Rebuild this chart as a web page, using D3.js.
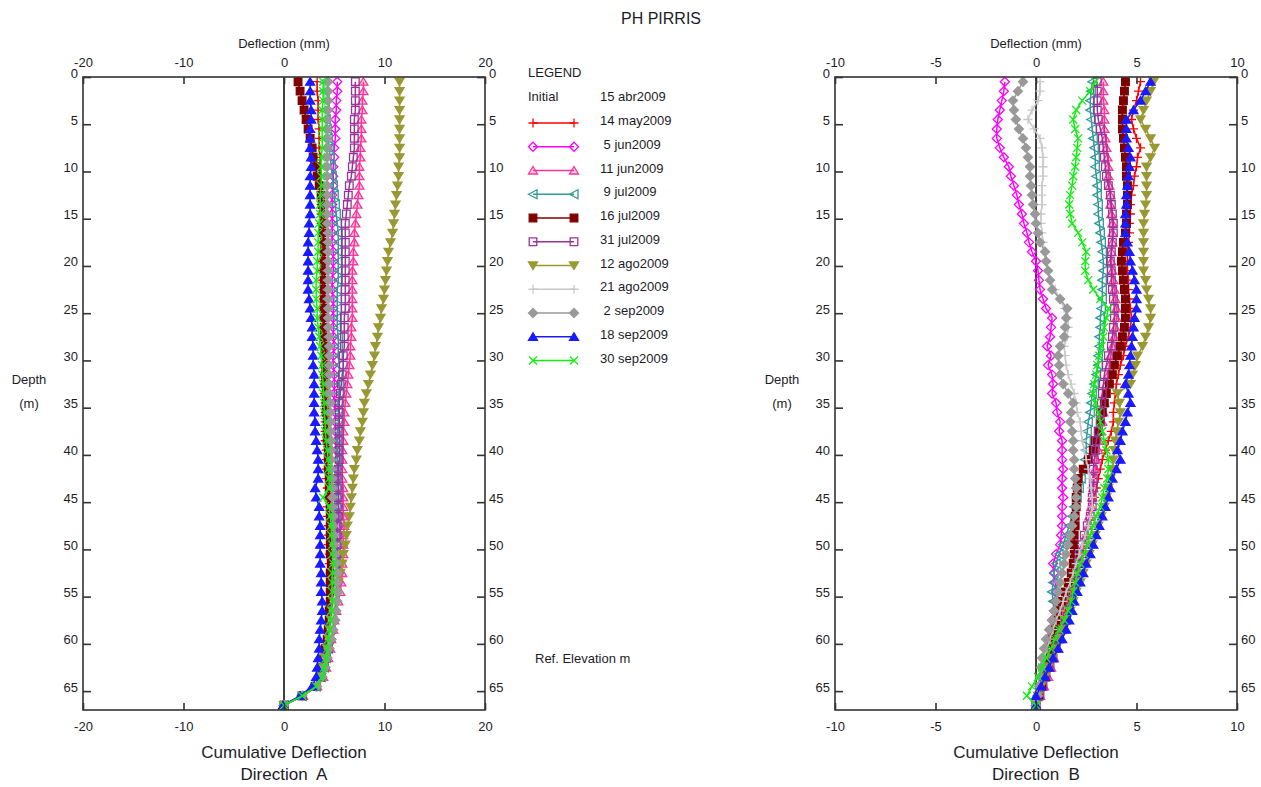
<!DOCTYPE html>
<html><head><meta charset="utf-8">
<script src="https://cdn.jsdelivr.net/npm/d3@7"></script>
<style>
html,body{margin:0;padding:0;background:#fff;}
svg{display:block;font-family:"Liberation Sans",Arial,sans-serif;}
</style></head><body>
<svg id="chart" width="1261" height="787"></svg>
<script>
// ---------------- DATA ----------------
const depths = [0.5,1.5,2.5,3.5,4.5,5.5,6.5,7.5,8.5,9.5,
 10.5,11.5,12.5,13.5,14.5,15.5,16.5,17.5,18.5,19.5,
 20.5,21.5,22.5,23.5,24.5,25.5,26.5,27.5,28.5,29.5,
 30.5,31.5,32.5,33.5,34.5,35.5,36.5,37.5,38.5,39.5,
 40.5,41.5,42.5,43.5,44.5,45.5,46.5,47.5,48.5,49.5,
 50.5,51.5,52.5,53.5,54.5,55.5,56.5,57.5,58.5,59.5,
 60.5,61.5,62.5,63.5,64.5,65.5,66.5];

const seriesLabels = ["14 may2009"," 5 jun2009","11 jun2009"," 9 jul2009","16 jul2009","31 jul2009",
  "12 ago2009","21 ago2009"," 2 sep2009","18 sep2009","30 sep2009"];
const initialLabel = "15 abr2009";
const depthTicks = [0,5,10,15,20,25,30,35,40,45,50,55,60,65];
const ticksA = [-20,-10,0,10,20];
const ticksB = [-10,-5,0,5,10];

// Direction A (mm)
const a_14may = [3.3,3.3,3.4,3.4,3.4,3.5,3.5,3.5,3.6,3.6,
 3.6,3.6,3.7,3.7,3.7,3.7,3.8,3.8,3.8,3.8,
 3.8,3.8,3.9,3.9,3.9,3.9,3.9,3.9,3.9,4.0,
 4.0,4.0,4.0,4.0,4.1,4.1,4.1,4.1,4.1,4.2,
 4.2,4.2,4.2,4.3,4.3,4.3,4.3,4.4,4.4,4.4,
 4.5,4.5,4.6,4.6,4.6,4.6,4.5,4.5,4.4,4.3,
 4.2,4.1,3.9,3.7,3.2,1.8,0];
const a_05jun = [5.3,5.3,5.2,5.2,5.1,5.1,5.1,5.0,5.0,4.9,
 4.9,4.9,4.8,4.8,4.8,4.8,4.8,4.8,4.9,4.9,
 4.9,4.8,4.8,4.9,4.9,4.9,4.9,4.9,5.0,4.9,
 4.9,5.0,5.0,5.0,5.0,5.1,5.1,5.1,5.2,5.2,
 5.3,5.3,5.3,5.4,5.4,5.4,5.5,5.5,5.5,5.6,
 5.5,5.5,5.5,5.4,5.3,5.2,5.1,5.0,4.8,4.7,
 4.5,4.3,4.1,3.8,3.2,1.8,0];
const a_11jun = [7.9,7.9,7.8,7.8,7.7,7.7,7.7,7.6,7.6,7.5,
 7.5,7.5,7.4,7.3,7.2,7.1,7.0,7.0,6.9,6.9,
 6.8,6.8,6.8,6.8,6.8,6.8,6.7,6.7,6.6,6.6,
 6.5,6.4,6.3,6.2,6.1,6.0,6.0,5.9,5.9,5.8,
 5.8,5.8,5.8,5.9,5.9,5.9,5.9,6.0,5.9,5.9,
 5.9,5.8,5.8,5.7,5.6,5.4,5.2,5.0,4.9,4.7,
 4.6,4.4,4.2,3.9,3.3,1.9,0];
const a_09jul = [4.0,4.0,4.1,4.1,4.2,4.3,4.4,4.5,4.6,4.7,
 4.8,4.9,5.0,5.1,5.2,5.3,5.4,5.4,5.4,5.4,
 5.4,5.4,5.3,5.3,5.3,5.3,5.3,5.4,5.4,5.4,
 5.5,5.5,5.5,5.5,5.4,5.4,5.4,5.3,5.3,5.3,
 5.3,5.2,5.2,5.2,5.2,5.2,5.2,5.2,5.2,5.2,
 5.2,5.1,5.1,5.0,5.0,4.9,4.8,4.7,4.6,4.5,
 4.4,4.2,4.0,3.7,3.2,1.8,0];
const a_16jul = [1.4,1.6,1.8,2.0,2.2,2.4,2.6,2.8,2.9,3.1,
 3.3,3.5,3.7,3.8,3.9,3.9,3.9,4.0,4.0,4.0,
 4.0,4.0,4.0,4.0,4.0,4.0,4.0,4.0,4.1,4.1,
 4.1,4.1,4.1,4.2,4.2,4.2,4.3,4.3,4.3,4.4,
 4.4,4.4,4.5,4.5,4.5,4.6,4.6,4.6,4.6,4.6,
 4.6,4.7,4.6,4.6,4.6,4.6,4.5,4.5,4.4,4.3,
 4.1,4.0,3.8,3.6,3.1,1.8,0];
const a_31jul = [7.1,7.1,7.1,7.1,7.0,7.0,7.0,7.0,6.9,6.8,
 6.7,6.5,6.4,6.3,6.2,6.1,6.1,6.1,6.1,6.1,
 6.1,6.1,6.1,6.1,6.1,6.0,6.0,6.0,6.0,5.9,
 5.9,5.8,5.7,5.6,5.5,5.5,5.5,5.5,5.5,5.5,
 5.5,5.4,5.4,5.4,5.4,5.4,5.4,5.3,5.3,5.3,
 5.3,5.2,5.2,5.1,5.1,5.0,4.9,4.8,4.7,4.5,
 4.4,4.2,4.0,3.7,3.2,1.8,0];
const a_12ago = [11.5,11.5,11.5,11.5,11.5,11.5,11.5,11.5,11.5,11.4,
 11.4,11.3,11.2,11.1,11.0,10.9,10.8,10.6,10.4,10.3,
 10.2,10.1,10.0,9.9,9.7,9.6,9.4,9.3,9.1,9.0,
 8.8,8.6,8.4,8.2,8.0,7.9,7.8,7.6,7.5,7.3,
 7.2,7.0,6.9,6.8,6.7,6.6,6.5,6.3,6.2,6.1,
 5.9,5.8,5.6,5.4,5.2,5.0,4.9,4.8,4.6,4.5,
 4.3,4.1,3.9,3.7,3.2,1.9,0];
const a_21ago = [4.1,4.1,4.1,4.1,4.1,4.1,4.2,4.2,4.2,4.2,
 4.2,4.2,4.2,4.2,4.2,4.3,4.3,4.3,4.3,4.3,
 4.3,4.3,4.3,4.3,4.4,4.4,4.4,4.4,4.5,4.5,
 4.5,4.5,4.5,4.6,4.6,4.6,4.7,4.7,4.7,4.7,
 4.8,4.8,4.8,4.8,4.9,4.9,4.9,4.9,5.0,5.0,
 5.0,5.0,5.1,5.1,5.1,5.0,4.9,4.8,4.7,4.5,
 4.4,4.2,4.0,3.7,3.2,1.8,0];
const a_02sep = [4.4,4.4,4.4,4.4,4.3,4.3,4.3,4.3,4.3,4.3,
 4.3,4.3,4.3,4.3,4.3,4.3,4.4,4.4,4.4,4.4,
 4.4,4.4,4.4,4.4,4.4,4.4,4.4,4.5,4.5,4.5,
 4.5,4.5,4.5,4.5,4.6,4.6,4.6,4.6,4.7,4.7,
 4.7,4.7,4.8,4.8,4.8,4.8,4.9,4.9,5.0,5.0,
 5.1,5.2,5.3,5.3,5.4,5.3,5.2,5.1,4.9,4.7,
 4.5,4.3,4.1,3.8,3.3,1.8,0];
const a_18sep = [2.6,2.6,2.6,2.7,2.7,2.6,2.6,2.6,2.7,2.7,
 2.6,2.6,2.6,2.6,2.6,2.5,2.5,2.4,2.4,2.4,
 2.4,2.4,2.4,2.5,2.6,2.7,2.8,2.8,2.9,2.9,
 2.9,3.0,3.0,3.0,3.0,3.0,3.1,3.1,3.2,3.3,
 3.4,3.4,3.4,3.1,3.2,3.5,3.5,3.6,3.6,3.6,
 3.6,3.6,3.7,3.7,3.7,3.8,3.8,3.7,3.6,3.5,
 3.5,3.4,3.3,3.2,2.8,1.6,-0.1];
const a_30sep = [3.9,3.9,3.9,3.8,3.8,3.8,3.8,3.8,3.7,3.7,
 3.7,3.7,3.6,3.6,3.6,3.5,3.4,3.4,3.4,3.3,
 3.3,3.2,3.2,3.2,3.3,3.3,3.4,3.5,3.6,3.7,
 3.8,3.8,3.9,3.9,4.0,4.0,4.1,4.1,4.2,4.3,
 4.4,4.4,4.5,4.5,3.9,4.5,4.6,4.7,4.7,4.8,
 4.8,4.9,4.8,4.8,4.8,4.8,4.7,4.6,4.5,4.4,
 4.3,4.2,4.0,3.8,3.2,1.8,0];

// Direction B (mm)
const b_14may = [5.2,5.1,5.0,4.85,4.75,4.85,5.0,5.2,5.05,5.0,
 4.9,4.85,4.75,4.7,4.7,4.65,4.65,4.6,4.55,4.55,
 4.55,4.6,4.6,4.65,4.7,4.75,4.7,4.6,4.45,4.35,
 4.2,4.1,4.0,3.95,3.9,3.85,3.85,3.75,3.6,3.45,
 3.3,3.2,3.1,3.0,2.9,2.8,2.7,2.6,2.5,2.4,
 2.3,2.15,2.0,1.85,1.7,1.6,1.45,1.3,1.1,0.95,
 0.8,0.7,0.55,0.4,0.3,0.15,0];
const b_05jun = [-1.55,-1.6,-1.7,-1.8,-1.9,-1.95,-1.95,-1.8,-1.6,-1.35,
 -1.25,-1.1,-0.95,-0.85,-0.7,-0.6,-0.45,-0.35,-0.2,0.0,
 0.1,0.15,0.2,0.35,0.5,0.8,0.75,0.7,0.55,0.75,
 0.6,0.8,0.85,0.8,1.0,1.05,1.2,1.15,1.3,1.3,
 1.3,1.35,1.3,1.3,1.35,1.3,1.3,1.3,1.25,1.2,
 1.0,0.85,0.9,0.95,1.0,0.95,0.9,0.8,0.7,0.6,
 0.5,0.45,0.35,0.3,0.2,0.1,0];
const b_11jun = [3.35,3.35,3.35,3.4,3.4,3.4,3.45,3.5,3.55,3.6,
 3.6,3.65,3.7,3.7,3.75,3.8,3.8,3.8,3.75,3.75,
 3.8,3.85,3.9,3.95,4.0,4.0,3.95,3.9,3.8,3.7,
 3.65,3.6,3.5,3.45,3.4,3.35,3.3,3.2,3.15,3.1,
 3.0,2.95,2.9,2.85,2.8,2.75,2.65,2.6,2.5,2.4,
 2.3,2.2,2.1,2.0,1.9,1.8,1.65,1.5,1.35,1.2,
 1.1,0.9,0.75,0.6,0.4,0.2,0];
const b_09jul = [2.8,2.75,2.7,2.7,2.75,2.8,2.85,2.9,2.95,2.95,
 3.0,3.05,3.05,3.1,3.1,3.15,3.2,3.25,3.3,3.35,
 3.35,3.3,3.3,3.3,3.25,3.2,3.2,3.15,3.15,3.1,
 3.1,3.0,2.9,2.8,2.75,2.7,2.6,2.55,2.5,2.5,
 2.45,2.35,2.25,2.15,2.05,1.9,1.8,1.65,1.5,1.35,
 1.15,1.0,0.9,0.85,0.8,0.85,0.9,0.85,0.8,0.7,
 0.6,0.5,0.4,0.3,0.2,0.1,0];
const b_16jul = [4.45,4.4,4.35,4.3,4.3,4.3,4.35,4.4,4.45,4.5,
 4.5,4.55,4.55,4.55,4.5,4.5,4.45,4.35,4.3,4.25,
 4.3,4.35,4.4,4.45,4.45,4.45,4.4,4.3,4.2,4.05,
 3.9,3.8,3.65,3.5,3.4,3.3,3.2,3.1,2.95,2.85,
 2.6,2.35,2.1,2.05,2.0,2.0,1.95,1.95,1.9,1.9,
 1.9,1.85,1.75,1.6,1.45,1.3,1.1,1.0,0.9,0.85,
 0.8,0.7,0.6,0.45,0.3,0.15,0];
const b_31jul = [3.05,3.05,3.05,3.05,3.1,3.2,3.3,3.35,3.4,3.45,
 3.5,3.6,3.7,3.75,3.8,3.85,3.85,3.8,3.75,3.7,
 3.75,3.75,3.8,3.85,3.9,3.9,3.85,3.8,3.75,3.6,
 3.5,3.4,3.35,3.3,3.25,3.2,3.2,3.1,3.0,2.95,
 2.9,2.85,2.85,2.85,2.8,2.8,2.7,2.55,2.4,2.3,
 2.15,2.1,2.0,1.9,1.8,1.7,1.55,1.45,1.3,1.15,
 1.0,0.85,0.7,0.5,0.35,0.2,0];
const b_12ago = [5.85,5.7,5.5,5.35,5.2,5.45,5.7,5.9,5.7,5.5,
 5.5,5.5,5.5,5.45,5.4,5.35,5.35,5.35,5.35,5.35,
 5.35,5.45,5.5,5.6,5.7,5.7,5.6,5.45,5.3,5.05,
 4.95,4.8,4.7,4.05,4.15,4.2,4.1,4.0,3.95,3.9,
 3.85,3.8,3.7,3.6,3.5,3.4,3.25,3.1,2.95,2.8,
 2.65,2.5,2.35,2.2,2.0,1.85,1.7,1.5,1.35,1.15,
 1.0,0.8,0.6,0.45,0.25,0.1,0];
const b_21ago = [0.2,0.2,0.1,-0.2,-0.4,-0.1,0.2,0.3,0.35,0.35,
 0.35,0.3,0.3,0.3,0.25,0.25,0.3,0.35,0.45,0.5,
 0.6,0.7,0.95,1.2,1.4,1.6,1.6,1.55,1.4,1.45,
 1.5,1.6,1.75,1.9,2.0,2.05,2.2,2.25,2.3,2.4,
 2.5,2.6,2.7,2.75,2.8,2.8,2.7,2.6,2.45,2.3,
 2.15,2.0,1.85,1.7,1.5,1.35,1.2,1.0,0.85,0.7,
 0.55,0.4,0.3,0.2,0.1,0.05,0];
const b_02sep = [-0.65,-0.9,-1.15,-1.1,-1.0,-0.85,-0.65,-0.5,-0.4,-0.3,
 -0.3,-0.25,-0.2,-0.15,-0.05,0.0,0.1,0.2,0.45,0.5,
 0.6,0.7,0.8,1.2,1.55,1.5,1.45,1.4,1.2,1.1,
 1.15,1.2,1.35,1.6,1.85,1.75,1.7,1.8,1.85,1.85,
 1.9,1.9,1.95,2.0,2.0,2.0,1.9,1.8,1.7,1.6,
 1.5,1.4,1.3,1.2,1.1,1.0,0.9,0.8,0.65,0.5,
 0.4,0.3,0.25,0.2,0.15,0.1,0];
const b_18sep = [5.7,5.45,5.2,4.85,4.5,4.5,4.5,4.6,4.7,4.65,
 4.6,4.55,4.5,4.5,4.45,4.45,4.45,4.55,4.65,4.7,
 4.8,4.9,5.0,5.0,5.0,4.9,4.85,4.8,4.75,4.7,
 4.65,4.6,4.45,4.6,4.7,4.55,4.45,4.3,4.2,4.05,
 4.2,4.0,3.8,3.7,3.6,3.45,3.3,3.15,3.0,2.85,
 2.7,2.5,2.35,2.2,2.05,1.9,1.8,1.65,1.5,1.3,
 1.1,0.85,0.65,0.45,0.25,0.0,0];
const b_30sep = [2.95,2.7,2.3,2.0,1.85,1.95,2.1,2.05,2.0,1.95,
 1.85,1.8,1.7,1.65,1.7,1.8,2.1,2.3,2.5,2.45,
 2.45,2.6,2.85,3.2,3.6,3.5,3.4,3.35,3.25,3.15,
 3.05,3.0,2.9,2.85,2.95,3.1,3.2,3.3,3.4,3.5,
 3.6,3.6,3.55,3.4,3.3,3.2,3.0,2.85,2.7,2.55,
 2.4,2.2,2.05,1.95,1.85,1.75,1.6,1.4,1.15,0.95,
 0.75,0.5,0.3,0.1,-0.2,-0.45,0];

const dirA = [a_14may,a_05jun,a_11jun,a_09jul,a_16jul,a_31jul,a_12ago,a_21ago,a_02sep,a_18sep,a_30sep];
const dirB = [b_14may,b_05jun,b_11jun,b_09jul,b_16jul,b_31jul,b_12ago,b_21ago,b_02sep,b_18sep,b_30sep];

// ---------------- STYLES ----------------
const styles = [
  {color:"#ff0000", marker:"plus",    fill:"none"},
  {color:"#ff00ff", marker:"diamond", fill:"none"},
  {color:"#ff3399", marker:"triUp",   fill:"rgba(255,51,153,0.25)"},
  {color:"#339999", marker:"triLeft", fill:"none"},
  {color:"#800000", marker:"square",  fill:"#800000"},
  {color:"#993399", marker:"square",  fill:"none"},
  {color:"#999933", marker:"triDown", fill:"#999933"},
  {color:"#c8c8c8", marker:"plus",    fill:"none"},
  {color:"#999999", marker:"diamond", fill:"#999999"},
  {color:"#1a1aff", marker:"triUp",   fill:"#1a1aff"},
  {color:"#11ee11", marker:"cross",   fill:"none"}
];
const markerPaths = {
  plus:"M-4.5,0H4.5M0,-4.5V4.5",
  diamond:"M0,-4.5L4.5,0L0,4.5L-4.5,0Z",
  triUp:"M0,-4L4.5,3.5L-4.5,3.5Z",
  triLeft:"M-4.5,0L4,-4.5L4,4.5Z",
  square:"M-3.8,-3.8H3.8V3.8H-3.8Z",
  triDown:"M-4.5,-3.5H4.5L0,4Z",
  cross:"M-4,-4L4,4M4,-4L-4,4"
};
const TXT = "#1c1c28";

// ---------------- DRAW ----------------
const svg = d3.select("#chart");
svg.append("text").attr("x",661).attr("y",24).attr("text-anchor","middle")
  .attr("font-size",16).attr("fill",TXT).text("PH PIRRIS");

const yScale = d3.scaleLinear().domain([0,67]).range([77,710]);

function panel(x0, x1, domain, xticks, data, dirLabel, depthX) {
  const x = d3.scaleLinear().domain(domain).range([x0,x1]);
  const g = svg.append("g");
  // zero line
  g.append("line").attr("x1",x(0)).attr("x2",x(0)).attr("y1",yScale(0)).attr("y2",yScale(67))
    .attr("stroke","#000").attr("stroke-width",1.5);
  // series
  const line = d3.line().x(d=>x(d[1])).y(d=>yScale(d[0]));
  data.forEach((vals,si)=>{
    const st = styles[si];
    const pts = depths.map((dp,i)=>[dp, vals[i]]).filter(p=>p[1]!==undefined);
    const sg = g.append("g");
    sg.append("path").datum(pts).attr("d",line).attr("fill","none")
      .attr("stroke",st.color).attr("stroke-width",1.5);
    sg.selectAll("path.m").data(pts).join("path").attr("class","m")
      .attr("transform",d=>`translate(${x(d[1])},${yScale(d[0])})`)
      .attr("d",markerPaths[st.marker]).attr("fill",st.fill)
      .attr("stroke",st.color).attr("stroke-width",1.3);
  });
  // frame
  g.append("rect").attr("x",x0).attr("y",yScale(0)).attr("width",x1-x0).attr("height",yScale(67)-yScale(0))
    .attr("fill","none").attr("stroke","#333").attr("stroke-width",1.6);
  const fmt = d=>String(d);
  const styleAxis = sel=>{
    sel.select(".domain").remove();
    sel.selectAll(".tick line").attr("stroke","#333").attr("stroke-width",1.6);
    sel.selectAll(".tick text").attr("fill",TXT).attr("font-size",13)
      .attr("font-family","'Liberation Sans',Arial,sans-serif");
  };
  g.append("g").attr("transform",`translate(0,${yScale(0)})`)
    .call(d3.axisTop(x).tickValues(xticks).tickFormat(fmt).tickSize(-7).tickPadding(10)).call(styleAxis);
  g.append("g").attr("transform",`translate(0,${yScale(67)})`)
    .call(d3.axisBottom(x).tickValues(xticks).tickFormat(fmt).tickSize(-7).tickPadding(12)).call(styleAxis);
  const gl = g.append("g").attr("transform",`translate(${x0},0)`)
    .call(d3.axisLeft(yScale).tickValues(depthTicks).tickFormat(fmt).tickSize(-8).tickPadding(5)).call(styleAxis);
  gl.selectAll(".tick text").attr("dy","0.0em");
  const gr = g.append("g").attr("transform",`translate(${x1},0)`)
    .call(d3.axisRight(yScale).tickValues(depthTicks).tickFormat(fmt).tickSize(-8).tickPadding(4)).call(styleAxis);
  gr.selectAll(".tick text").attr("dy","0.0em");

  const cx = (x0+x1)/2;
  g.append("text").attr("x",x(0)).attr("y",48).attr("text-anchor","middle").attr("font-size",13)
    .attr("fill",TXT).text("Deflection (mm)");
  g.append("text").attr("x",cx).attr("y",758).attr("text-anchor","middle").attr("font-size",17)
    .attr("fill",TXT).text("Cumulative Deflection");
  g.append("text").attr("x",cx).attr("y",780).attr("text-anchor","middle").attr("font-size",17)
    .attr("fill",TXT).style("white-space","pre").text(dirLabel);
  g.append("text").attr("x",depthX).attr("y",384).attr("text-anchor","middle").attr("font-size",13)
    .attr("fill",TXT).text("Depth");
  g.append("text").attr("x",depthX).attr("y",408).attr("text-anchor","middle").attr("font-size",13)
    .attr("fill",TXT).text("(m)");
}

panel(83, 485, [-20,20], ticksA, dirA, "Direction  A", 29);
panel(835, 1237, [-10,10], ticksB, dirB, "Direction  B", 782);

// legend
const lg = svg.append("g");
lg.append("text").attr("x",528).attr("y",77).attr("font-size",13).attr("fill",TXT).text("LEGEND");
lg.append("text").attr("x",528).attr("y",101).attr("font-size",13).attr("fill",TXT).text("Initial");
lg.append("text").attr("x",600).attr("y",101).attr("font-size",13).attr("fill",TXT).text(initialLabel);
seriesLabels.forEach((lab,i)=>{
  const st = styles[i];
  const ty = 125 + i*23.75;
  const ly = ty - 2;
  lg.append("line").attr("x1",533).attr("x2",574).attr("y1",ly).attr("y2",ly)
    .attr("stroke",st.color).attr("stroke-width",1.5);
  [533,574].forEach(mx=>{
    lg.append("path").attr("transform",`translate(${mx},${ly})`).attr("d",markerPaths[st.marker])
      .attr("fill",st.fill).attr("stroke",st.color).attr("stroke-width",1.3);
  });
  lg.append("text").attr("x",600).attr("y",ty).attr("font-size",13).attr("fill",TXT)
    .style("white-space","pre").text(lab);
});
svg.append("text").attr("x",535).attr("y",663).attr("font-size",13).attr("fill",TXT).text("Ref. Elevation m");
</script>
</body></html>
